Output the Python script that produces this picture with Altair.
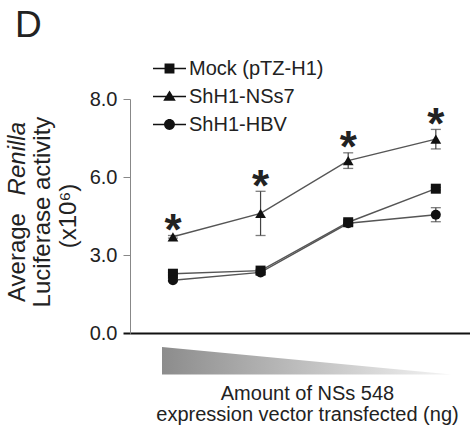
import altair as alt
import pandas as pd

# ---------------- data ----------------
series = ["Mock (pTZ-H1)", "ShH1-NSs7", "ShH1-HBV"]
doses = [1, 2, 3, 4]
mock_mean = [2.28, 2.40, 4.26, 5.55]
mock_err = [0.05, 0.05, 0.10, 0.05]
nss7_mean = [3.70, 4.60, 6.42, 6.97]
nss7_err = [0.05, 0.85, 0.20, 0.25]
hbv_mean = [2.03, 2.33, 4.22, 4.55]
hbv_err = [0.05, 0.08, 0.10, 0.27]
star_labels = ["*", "*", "*", "*"]   # significance above ShH1-NSs7
y_ticks = [0, 3, 6, 8]
x_title = ["Amount of NSs 548", "expression vector transfected (ng)"]
y_title_parts = ["Average", "Renilla", "Luciferase activity", "(x10\u2076)"]
panel_label = ["D"]
wedge_amount = [1, 0]          # relative amount (high -> low)

# ---------------- layout ----------------
W, H = 340, 234
FONT = "Liberation Sans"
TXT = "#222222"

rows = []
for s, m, e in zip(series, [mock_mean, nss7_mean, hbv_mean], [mock_err, nss7_err, hbv_err]):
    for d, mv, ev in zip(doses, m, e):
        rows.append({"series": s, "dose": d, "mean": mv, "lo": mv - ev, "hi": mv + ev})
df = pd.DataFrame(rows)

star_df = pd.DataFrame({"dose": doses, "hi": [m + e for m, e in zip(nss7_mean, nss7_err)],
                        "star": star_labels})

xscale = alt.Scale(domain=[0.51, 4.39], nice=False, zero=False)
yscale = alt.Scale(domain=[0, 3, 6, 8], range=[H, H * 2 / 3, H / 3, 0], nice=False, zero=False)

base = alt.Chart(df)

lines = base.mark_line(color="#555555", strokeWidth=1.4).encode(
    x=alt.X("dose:Q", scale=xscale,
            axis=alt.Axis(domainColor="#111111", domainWidth=2, ticks=False, labels=False,
                          grid=False, title=x_title, titleFontSize=20, titleFont=FONT,
                          titleFontWeight="normal", titleColor=TXT, titleLineHeight=21,
                          titleX=177, titleY=50, titleBaseline="top")),
    y=alt.Y("mean:Q", scale=yscale,
            axis=alt.Axis(values=y_ticks, format=".1f", domainColor="#888888", domainWidth=1,
                          tickColor={"condition": {"test": "datum.value === 0", "value": "#111111"},
                                     "value": "#888888"},
                          tickWidth={"condition": {"test": "datum.value === 0", "value": 2},
                                     "value": 1},
                          tickSize=7, labelFontSize=20, labelFont=FONT, labelColor=TXT,
                          labelPadding=6, title=None, grid=False)),
    detail="series:N",
    order="dose:Q",
)

err_rule = base.mark_rule(color="#444444", strokeWidth=1.2).encode(
    x="dose:Q", y="lo:Q", y2="hi:Q")
cap_lo = base.mark_tick(color="#444444", orient="horizontal", size=10, thickness=1.3).encode(
    x="dose:Q", y="lo:Q")
cap_hi = base.mark_tick(color="#444444", orient="horizontal", size=10, thickness=1.3).encode(
    x="dose:Q", y="hi:Q")

shapes = ["square", "triangle-up", "circle"]
sizes = [100, 115, 100]
point_layers = [
    base.transform_filter(alt.datum.series == s).mark_point(
        shape=sh, filled=True, color="#111111", opacity=1, size=sz).encode(x="dose:Q", y="mean:Q")
    for s, sh, sz in zip(series, shapes, sizes)
]

# legend symbols: a thin horizontal bar (the line) plus the marker, all filled
BAR = "M-1,-0.045H1V0.045H-1Z"
legend_paths = [
    BAR + "M-0.3,-0.3H0.3V0.3H-0.3Z",
    BAR + "M0,-0.36L0.38,0.26H-0.38Z",
    BAR + "M-0.33,0A0.33,0.33,0,1,1,0.33,0A0.33,0.33,0,1,1,-0.33,0Z",
]
legend_layer = base.transform_filter("false").mark_point(
    filled=True, color="#111111", opacity=1).encode(
    x="dose:Q", y="mean:Q",
    shape=alt.Shape("series:N", scale=alt.Scale(domain=series, range=legend_paths),
                    legend=alt.Legend(orient="none", legendX=22, legendY=-48, title=None,
                                      symbolSize=1089, labelFontSize=20, labelFont=FONT,
                                      labelColor=TXT, labelOffset=2, rowPadding=-3, padding=0,
                                      symbolFillColor="#111111", symbolOpacity=1)),
)

stars = alt.Chart(star_df).mark_text(fontSize=44, fontWeight="bold", font=FONT, color=TXT,
                                     baseline="alphabetic", dy=9.5).encode(
    x="dose:Q", y="hi:Q", text="star:N")

main = alt.layer(lines, err_rule, cap_lo, cap_hi, *point_layers, legend_layer, stars)

wedge_df = pd.DataFrame({"pos": [0.875, 4.18], "amount": wedge_amount})
wedge = alt.Chart(wedge_df).mark_area(
    color=alt.Gradient(gradient="linear",
                       stops=[alt.GradientStop(color="#8c8c8c", offset=0),
                              alt.GradientStop(color="#f4f4f4", offset=1)],
                       x1=0, x2=1, y1=0, y2=0)).encode(
    x=alt.X("pos:Q", scale=xscale),
    y=alt.Y("amount:Q", scale=alt.Scale(domain=[0, 1], range=[H + 41.5, H + 14]), axis=None),
    y2=alt.datum(0),
)

tdf = pd.DataFrame({"t": panel_label})
d_label = alt.Chart(tdf).mark_text(fontSize=37, font=FONT, color=TXT, align="left",
                                   baseline="alphabetic").encode(
    text="t:N", x=alt.value(-115), y=alt.value(-62))

ydf = [pd.DataFrame({"t": [p]}) for p in y_title_parts]
yt1 = alt.Chart(ydf[0]).mark_text(fontSize=24, font=FONT, color=TXT, angle=270, align="left",
                                  baseline="alphabetic").encode(
    text="t:N", x=alt.value(-105), y=alt.value(203))
yt2 = alt.Chart(ydf[1]).mark_text(fontSize=24, font=FONT, fontStyle="italic", color=TXT, angle=270,
                                  align="right", baseline="alphabetic").encode(
    text="t:N", x=alt.value(-105), y=alt.value(23))
yt3 = alt.Chart(ydf[2]).mark_text(fontSize=24, font=FONT, color=TXT, angle=270, align="center",
                                  baseline="alphabetic").encode(
    text="t:N", x=alt.value(-80.5), y=alt.value(113))
yt4 = alt.Chart(ydf[3]).mark_text(fontSize=24, font=FONT, color=TXT, angle=270, align="center",
                                  baseline="alphabetic").encode(
    text="t:N", x=alt.value(-54.5), y=alt.value(117))

chart = alt.layer(
    main, wedge, d_label, yt1, yt2, yt3, yt4,
).resolve_scale(y="independent").properties(
    width=W, height=H,
    autosize=alt.AutoSizeParams(type="none"),
    padding={"left": 130, "top": 99, "right": 0, "bottom": 99},
    background="white",
).configure_view(stroke=None)

chart.save("out.html", embed_options={"renderer": "svg", "actions": False})
